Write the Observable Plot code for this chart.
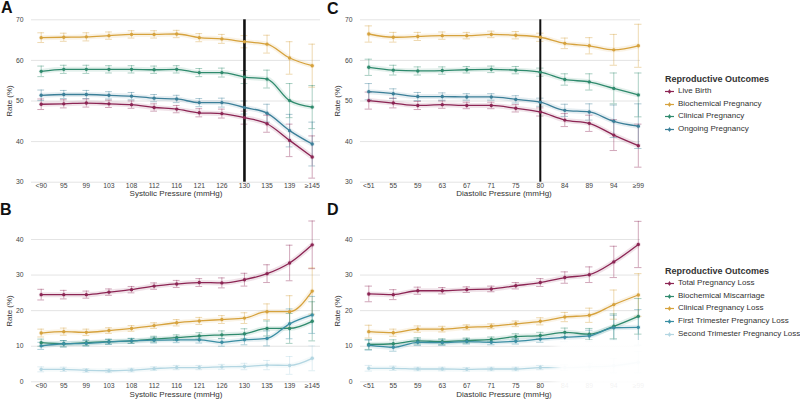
<!DOCTYPE html>
<html><head><meta charset="utf-8">
<script src="https://cdn.jsdelivr.net/npm/d3@7"></script>
<script src="https://cdn.jsdelivr.net/npm/@observablehq/plot@0.6"></script>
<style>
body{margin:0;background:#fff;font-family:"Liberation Sans",Arial,sans-serif;}
#root{position:relative;width:800px;height:399px;overflow:hidden;background:#fff;}
.abs{position:absolute;}
.letter{position:absolute;font-weight:bold;font-size:16px;color:#111;line-height:1;}
.xlab{position:absolute;font-size:8px;color:#333;white-space:nowrap;transform:translate(-50%,-50%);}
.ylab{position:absolute;font-size:8px;color:#333;white-space:nowrap;transform:translate(-50%,-50%) rotate(-90deg);}
.legend{position:absolute;color:#333;}
.legend .t{font-weight:bold;font-size:9px;height:12px;line-height:12px;}
.legend .it{font-size:8px;height:12.7px;line-height:12.7px;display:flex;align-items:center;white-space:nowrap;}
.legend svg{margin-right:4px;}
</style></head>
<body><div id="root"></div>
<script>
// ---------- categories ----------
const sysCats = ["<90","95","99","103","108","112","116","121","126","130","135","139","≥145"];
const diaCats = ["<51","55","59","63","67","71","75","80","84","89","94","≥99"];
const pregSeries = ["Live Birth","Biochemical Pregnancy","Clinical Pregnancy","Ongoing Pregnancy"];
const pregColors = ["#8c2554","#d6a23d","#2f8a6d","#3b7f98"];
const lossSeries = ["Total Pregnancy Loss","Biochemical Miscarriage","Clinical Pregnancy Loss","First Trimester Pregnancy Loss","Second Trimester Pregnancy Loss"];
const lossColors = ["#8c2554","#2f8a6d","#d6a23d","#3a8ea3","#b3d6e2"];
const pregTicks = [30,40,50,60,70];
const lossTicks = [0,10,20,30,40];

// ---------- Panel A: systolic, pregnancy outcomes ----------
const aLive = [49.2,49.3,49.5,49.3,49.1,48.4,48.0,47.1,46.9,45.9,44.4,40.3,36.2];
const aBio  = [65.6,65.7,65.8,66.1,66.4,66.4,66.5,65.6,65.3,64.6,64.0,60.6,58.7];
const aClin = [57.3,57.8,57.8,57.8,57.8,57.7,57.8,57.0,57.0,55.9,55.4,50.1,48.5];
const aOng  = [51.4,51.6,51.6,51.4,51.2,50.7,50.5,49.6,49.6,48.4,47.0,42.7,39.4];
const aLiveE = [1.3,1.0,1.0,0.9,0.9,0.9,0.9,1.0,1.1,1.6,2.1,4.0,5.2];
const aBioE  = [1.2,1.0,1.0,0.9,0.9,0.9,0.9,1.0,1.1,1.5,2.2,4.0,5.3];
const aClinE = [1.3,1.0,1.0,0.9,0.9,0.9,0.9,1.0,1.1,1.6,2.2,4.2,5.3];
const aOngE  = [1.3,1.0,1.0,0.9,0.9,0.9,0.9,1.0,1.1,1.6,2.2,4.0,5.4];

// ---------- Panel B: systolic, pregnancy loss ----------
const bTotal  = [24.5,24.5,24.5,25.2,25.9,26.9,27.5,27.9,27.8,28.7,30.4,33.4,38.5];
const bBioM   = [11.0,10.7,11.0,11.3,11.5,12.0,12.4,12.9,13.2,13.5,15.0,15.0,17.0];
const bClinL  = [13.7,14.1,13.9,14.4,15.0,15.8,16.6,17.1,17.5,17.9,19.7,19.7,25.5];
const bFirst  = [10.1,10.7,10.8,11.2,11.5,11.7,11.8,11.8,11.1,11.8,12.2,16.3,18.8];
const bSecond = [3.5,3.5,3.2,3.1,3.3,3.7,4.0,4.0,4.2,4.3,4.7,4.6,6.6];
const bTotalE  = [1.5,1.2,1.0,0.9,0.9,0.9,1.0,1.1,1.4,1.8,2.5,5.0,6.7];
const bBioME   = [1.0,0.9,0.8,0.7,0.7,0.8,0.8,0.9,1.1,1.4,2.1,4.2,5.5];
const bClinLE  = [1.1,1.0,0.9,0.8,0.8,0.8,0.9,1.0,1.1,1.5,2.2,4.5,6.5];
const bFirstE  = [1.0,0.9,0.8,0.7,0.7,0.8,0.8,0.9,1.1,1.4,2.1,4.2,5.2];
const bSecondE = [0.7,0.6,0.5,0.5,0.5,0.5,0.6,0.6,0.7,0.9,1.3,2.5,3.5];

// ---------- Panel C: diastolic, pregnancy outcomes ----------
const cLive = [50.1,49.5,48.9,49.1,48.9,48.9,48.2,47.3,45.3,44.5,41.6,39.0];
const cBio  = [66.5,65.7,65.9,66.1,66.1,66.4,66.2,65.7,64.2,63.6,62.6,63.6];
const cClin = [58.3,57.6,57.4,57.5,57.7,57.8,57.6,57.1,55.3,54.7,53.1,51.5];
const cOng  = [52.3,51.8,51.1,51.1,51.0,51.0,50.4,49.7,47.7,47.3,45.0,43.8];
const cLiveE = [2.1,1.2,1.0,0.9,0.8,0.8,0.9,1.0,1.6,2.0,3.8,5.3];
const cBioE  = [2.0,1.2,1.0,0.9,0.8,0.8,0.9,1.0,1.3,2.0,3.8,5.3];
const cClinE = [2.0,1.2,1.0,0.9,0.8,0.8,0.9,1.0,1.4,2.0,3.8,5.4];
const cOngE  = [2.0,1.2,1.0,0.9,0.8,0.8,0.9,1.0,1.5,2.0,4.0,5.5];

// ---------- Panel D: diastolic, pregnancy loss ----------
const dTotal  = [24.7,24.5,25.6,25.6,25.9,26.1,27.0,27.9,29.3,30.1,33.7,38.6];
const dBioM   = [10.5,10.7,11.5,11.3,11.6,11.9,12.7,13.0,13.9,13.4,15.6,18.4];
const dClinL  = [14.1,13.8,14.8,14.8,15.3,15.6,16.3,17.0,18.2,18.7,21.7,24.4];
const dFirst  = [10.3,9.7,11.1,11.0,11.3,11.1,11.4,12.0,12.5,12.9,15.2,15.3];
const dSecond = [3.8,3.8,3.6,3.6,3.5,3.6,3.6,4.0,4.0,4.2,4.5,5.5];
const dTotalE  = [2.2,1.4,1.0,0.9,0.8,0.8,0.9,1.1,1.6,2.2,4.4,6.5];
const dBioME   = [1.4,1.1,0.9,0.8,0.7,0.7,0.8,0.9,1.2,1.6,3.5,5.0];
const dClinLE  = [1.8,1.0,0.9,0.8,0.7,0.7,0.8,1.0,1.3,2.0,4.1,6.0];
const dFirstE  = [1.4,1.1,0.9,0.8,0.7,0.7,0.8,0.9,1.2,1.6,3.5,5.0];
const dSecondE = [0.8,0.6,0.5,0.5,0.5,0.5,0.5,0.6,0.8,1.0,2.0,3.0];

function makeRows(names, vals, errs) {
  const rows = [];
  names.forEach((s, k) => vals[k].forEach((v, i) => rows.push({series: s, i, v, e: errs[k][i]})));
  return rows;
}

const root = document.getElementById("root");

function panel(o) {
  const rows = makeRows(o.series, o.vals, o.errs);
  const n = o.cats.length;
  const cap = 0.15;
  const marks = [
    Plot.gridY(o.ticks, {stroke: "#e4e4e4", strokeOpacity: 1, strokeWidth: 1}),
    Plot.axisY(o.ticks, {tickSize: 0, tickPadding: 8, fontSize: 6.8, fill: "#444", label: null}),
    Plot.axisX(d3.range(n), {tickSize: 0, tickPadding: o.xPad, fontSize: 6.8, fill: "#444", label: null, tickFormat: i => o.cats[i]}),
    Plot.line(rows, {x: "i", y: "v", z: "series", stroke: "series", strokeWidth: 5, strokeOpacity: 0.13, curve: "monotone-x"}),
    Plot.ruleX(rows, {x: "i", y1: d => d.v - d.e, y2: d => d.v + d.e, stroke: "series", strokeOpacity: 0.45, strokeWidth: 0.9}),
    Plot.ruleY(rows, {y: d => d.v + d.e, x1: d => d.i - cap, x2: d => d.i + cap, stroke: "series", strokeOpacity: 0.45, strokeWidth: 0.9}),
    Plot.ruleY(rows, {y: d => d.v - d.e, x1: d => d.i - cap, x2: d => d.i + cap, stroke: "series", strokeOpacity: 0.45, strokeWidth: 0.9}),
    Plot.line(rows, {x: "i", y: "v", z: "series", stroke: "series", strokeWidth: 1.3, curve: "monotone-x"})
  ];
  if (o.refIndex != null) {
    marks.push(Plot.ruleX([o.refIndex], {y1: o.ticks[0], y2: o.ticks[o.ticks.length - 1], stroke: "#111", strokeWidth: o.refWidth}));
  }
  marks.push(Plot.dot(rows, {x: "i", y: "v", fill: "series", r: 1.7}));
  const svg = Plot.plot({
    width: o.width, height: o.height,
    marginLeft: o.ml, marginRight: o.mr || 0, marginTop: o.mt, marginBottom: o.mb,
    style: {background: "transparent", fontFamily: "Liberation Sans, Arial, sans-serif", overflow: "hidden"},
    x: {type: "linear", domain: [0, n - 1], range: o.xRange},
    y: {domain: [o.ticks[0], o.ticks[o.ticks.length - 1]], range: o.yRange},
    color: {domain: o.series, range: o.colors},
    marks
  });
  svg.style.position = "absolute";
  svg.style.left = o.left + "px";
  svg.style.top = o.top + "px";
  svg.style.overflow = "hidden";
  root.appendChild(svg);
}

panel({left: 0, top: 0, width: 320, height: 199, ml: 31, mt: 19.3, mb: 17.3, xPad: 0.5,
  xRange: [40.7, 311.7], yRange: [181.7, 19.3], cats: sysCats, ticks: pregTicks,
  series: pregSeries, colors: pregColors,
  vals: [aLive, aBio, aClin, aOng], errs: [aLiveE, aBioE, aClinE, aOngE], refIndex: 9, refWidth: 2.6});

panel({left: 0, top: 199, width: 320, height: 200, ml: 31, mt: 40, mb: 17.7, xPad: 1.5,
  xRange: [40.7, 311.7], yRange: [182.3, 40], cats: sysCats, ticks: lossTicks,
  series: lossSeries, colors: lossColors,
  vals: [bTotal, bBioM, bClinL, bFirst, bSecond], errs: [bTotalE, bBioME, bClinLE, bFirstE, bSecondE]});

panel({left: 320, top: 0, width: 330, height: 199, ml: 40, mr: 10, mt: 19.3, mb: 17.3, xPad: 0.5,
  xRange: [48.3, 317.8], yRange: [181.7, 19.3], cats: diaCats, ticks: pregTicks,
  series: pregSeries, colors: pregColors,
  vals: [cLive, cBio, cClin, cOng], errs: [cLiveE, cBioE, cClinE, cOngE], refIndex: 7, refWidth: 2});

panel({left: 320, top: 199, width: 330, height: 200, ml: 40, mr: 10, mt: 40, mb: 17.7, xPad: 1.5,
  xRange: [48.3, 317.8], yRange: [182.3, 40], cats: diaCats, ticks: lossTicks,
  series: lossSeries, colors: lossColors,
  vals: [dTotal, dBioM, dClinL, dFirst, dSecond], errs: [dTotalE, dBioME, dClinLE, dFirstE, dSecondE]});

// ---------- text: letters and axis titles ----------
function addDiv(cls, text, x, y) {
  const d = document.createElement("div");
  d.className = cls; d.textContent = text;
  d.style.left = x + "px"; d.style.top = y + "px";
  root.appendChild(d);
}
addDiv("letter", "A", 1, 0);
addDiv("letter", "B", 0, 202);
addDiv("letter", "C", 327, 1);
addDiv("letter", "D", 327, 202);
addDiv("xlab", "Systolic Pressure (mmHg)", 176, 192.7);
addDiv("xlab", "Systolic Pressure (mmHg)", 176, 394.3);
addDiv("xlab", "Diastolic Pressure (mmHg)", 504, 192.7);
addDiv("xlab", "Diastolic Pressure (mmHg)", 504, 394.3);
addDiv("ylab", "Rate (%)", 9, 100.5);
addDiv("ylab", "Rate (%)", 9, 311);
addDiv("ylab", "Rate (%)", 337, 100.5);
addDiv("ylab", "Rate (%)", 337, 311);

// ---------- legends ----------
function legend(title, names, colors, x, y) {
  const box = document.createElement("div");
  box.className = "legend"; box.style.left = x + "px"; box.style.top = y + "px";
  const t = document.createElement("div"); t.className = "t"; t.textContent = title; box.appendChild(t);
  names.forEach((nm, k) => {
    const it = document.createElement("div"); it.className = "it";
    const ns = "http://www.w3.org/2000/svg";
    const s = document.createElementNS(ns, "svg");
    s.setAttribute("width", 9); s.setAttribute("height", 7);
    s.innerHTML = `<line x1="0" x2="9" y1="3.5" y2="3.5" stroke="${colors[k]}" stroke-width="1.2"/>` +
      `<line x1="4.5" x2="4.5" y1="1" y2="6" stroke="${colors[k]}" stroke-opacity="0.6" stroke-width="1"/>` +
      `<circle cx="4.5" cy="3.5" r="1.5" fill="${colors[k]}"/>`;
    it.appendChild(s);
    const sp = document.createElement("span"); sp.textContent = nm; it.appendChild(sp);
    box.appendChild(it);
  });
  root.appendChild(box);
}
legend("Reproductive Outcomes", pregSeries, pregColors, 665, 73);
legend("Reproductive Outcomes", lossSeries, lossColors, 665, 265);

// faded watermark area seen in the reference (bottom right of panel D)
const wm = document.createElement("div");
wm.className = "abs";
wm.style.cssText = "left:548px;top:340px;width:100px;height:59px;background:linear-gradient(to right, rgba(255,255,255,0), rgba(255,255,255,0.93) 14px);";
root.appendChild(wm);
</script>
</body></html>
